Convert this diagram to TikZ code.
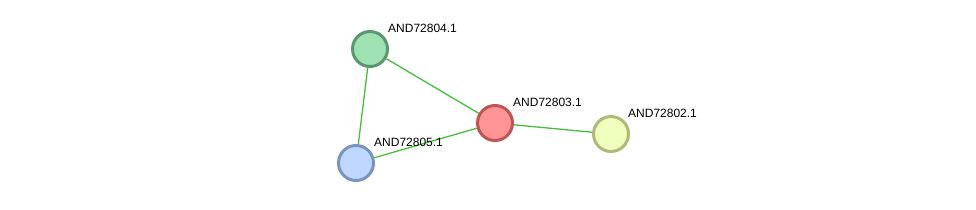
\documentclass[tikz,border=0pt]{standalone}
\usepackage{fontspec}
\setmainfont{Liberation Sans}
\usetikzlibrary{positioning}
\definecolor{Enlace}{RGB}{70,190,60}
\definecolor{VerdeRelleno}{RGB}{158,226,180}
\definecolor{VerdeBorde}{RGB}{90,150,110}
\definecolor{RojoRelleno}{RGB}{255,148,148}
\definecolor{RojoBorde}{RGB}{190,85,85}
\definecolor{AmarilloRelleno}{RGB}{240,255,190}
\definecolor{AmarilloBorde}{RGB}{175,185,120}
\definecolor{AzulRelleno}{RGB}{192,216,255}
\definecolor{AzulBorde}{RGB}{122,148,192}

\begin{document}
\begin{tikzpicture}[
  x=1pt, y=-1pt,
  prot/.style={
    circle, minimum size=35pt, inner sep=0pt,
    line width=3pt
  },
  etiq/.style={anchor=west, font=\fontsize{12}{14}\selectfont, inner sep=0pt},
  enlace/.style={Enlace, line width=1.3pt}
]
\useasboundingbox (0,0) rectangle (976,209);

\node[prot, fill=VerdeRelleno, draw=VerdeBorde] (p804) at (370,49) {};
\node[prot, fill=RojoRelleno, draw=RojoBorde] (p803) at (495,123) {};
\node[prot, fill=AmarilloRelleno, draw=AmarilloBorde] (p802) at (611,134) {};
\node[prot, fill=AzulRelleno, draw=AzulBorde] (p805) at (356,163) {};

\draw[enlace] (p804) -- (p803);
\draw[enlace] (p804) -- (p805);
\draw[enlace] (p805) -- (p803);
\draw[enlace] (p803) -- (p802);

\node[etiq] (e804) at (388,28) {AND72804.1};
\node[etiq] (e803) at (513,102) {AND72803.1};
\node[etiq] (e802) at (628,113) {AND72802.1};
\node[etiq] (e805) at (374,142) {AND72805.1};

\end{tikzpicture}
\end{document}
